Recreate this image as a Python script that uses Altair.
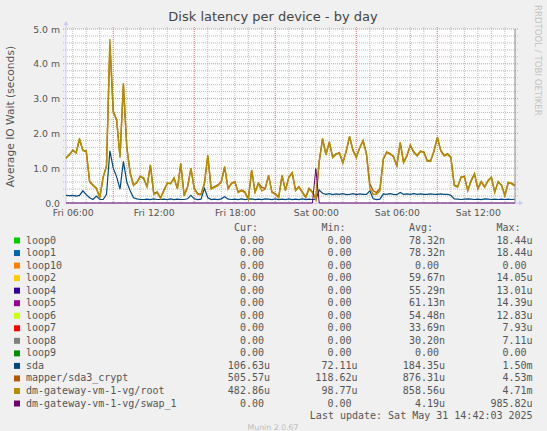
import altair as alt
import pandas as pd

# ---- samples: one every 15 minutes from Fri 05:30 to Sat 14:45 (values in ms) ----
START = "2025-05-30 05:30"
STEP = "15min"

sda_ms = [
    0.22, 0.21, 0.22, 0.20, 0.22, 0.35, 0.24, 0.15, 0.10, 0.20,
    0.10, 0.10, 0.25, 1.50, 1.00, 0.75, 0.40, 1.20, 0.60, 0.35,
    0.15, 0.12, 0.10, 0.10, 0.11, 0.10, 0.12, 0.10, 0.10, 0.11,
    0.10, 0.12, 0.10, 0.11, 0.10, 0.10, 0.12, 0.22, 0.12, 0.10,
    0.11, 0.42, 0.15, 0.10, 0.11, 0.10, 0.12, 0.18, 0.11, 0.10,
    0.11, 0.10, 0.12, 0.10, 0.11, 0.12, 0.10, 0.11, 0.10, 0.12,
    0.11, 0.10, 0.12, 0.10, 0.11, 0.10, 0.12, 0.10, 0.11, 0.10,
    0.12, 0.10, 0.11, 0.10, 0.10, 0.37, 0.28, 0.25, 0.27, 0.24,
    0.26, 0.25, 0.27, 0.24, 0.25, 0.27, 0.24, 0.26, 0.25, 0.25,
    0.35, 0.12, 0.10, 0.11, 0.26, 0.25, 0.27, 0.25, 0.24, 0.30,
    0.25, 0.26, 0.25, 0.27, 0.25, 0.26, 0.25, 0.25, 0.26, 0.25,
    0.25, 0.26, 0.25, 0.25, 0.22, 0.12, 0.11, 0.10, 0.11, 0.12,
    0.11, 0.10, 0.11, 0.10, 0.12, 0.11, 0.10, 0.11, 0.10, 0.11,
    0.10, 0.11, 0.10, 0.107,
]

crypt_ms = [
    1.30, 1.38, 1.52, 1.44, 1.82, 1.52, 1.48, 0.62, 0.52, 0.43,
    0.17, 0.73, 1.08, 4.53, 2.65, 2.38, 1.33, 3.40, 1.62, 0.88,
    0.52, 0.58, 0.77, 0.70, 0.47, 1.08, 0.27, 0.32, 0.15, 0.37,
    0.56, 0.57, 0.70, 0.42, 1.12, 0.22, 0.47, 0.98, 0.42, 0.27,
    0.25, 0.57, 1.35, 0.42, 0.47, 0.52, 0.62, 1.02, 0.42, 0.57,
    0.62, 0.32, 0.37, 0.32, 0.12, 0.93, 0.32, 0.57, 0.45, 0.42,
    0.78, 0.32, 0.27, 0.17, 0.78, 0.37, 0.73, 0.86, 0.37, 0.47,
    0.32, 0.17, 0.42, 0.32, 0.12, 1.18, 1.84, 1.40, 1.74, 1.32,
    1.42, 1.43, 1.16, 1.48, 1.90, 1.52, 1.32, 1.58, 1.78, 1.42,
    0.55, 0.35, 0.30, 0.42, 1.26, 1.47, 1.42, 1.33, 1.08, 1.73,
    1.17, 1.37, 1.65, 1.47, 1.37, 1.48, 1.47, 1.22, 1.22, 1.48,
    1.88, 1.52, 1.37, 1.42, 1.32, 0.52, 0.47, 0.73, 0.77, 0.37,
    0.63, 0.83, 0.42, 0.62, 0.47, 0.63, 0.73, 0.32, 0.60, 0.52,
    0.22, 0.58, 0.57, 0.51,
]

root_ms = [
    1.28, 1.40, 1.50, 1.45, 1.86, 1.50, 1.50, 0.60, 0.50, 0.41,
    0.15, 0.75, 1.05, 4.71, 2.60, 2.40, 1.30, 3.45, 1.60, 0.85,
    0.50, 0.60, 0.75, 0.73, 0.45, 1.10, 0.25, 0.30, 0.13, 0.35,
    0.58, 0.55, 0.73, 0.40, 1.15, 0.20, 0.45, 1.00, 0.40, 0.25,
    0.23, 0.55, 1.38, 0.40, 0.45, 0.50, 0.60, 1.05, 0.40, 0.55,
    0.60, 0.30, 0.35, 0.30, 0.10, 0.95, 0.30, 0.55, 0.35, 0.40,
    0.80, 0.30, 0.25, 0.15, 0.80, 0.35, 0.75, 0.88, 0.35, 0.45,
    0.30, 0.15, 0.40, 0.30, 0.10, 1.20, 1.86, 1.38, 1.76, 1.30,
    1.40, 1.45, 1.14, 1.50, 1.92, 1.50, 1.30, 1.60, 1.80, 1.40,
    0.42, 0.25, 0.25, 0.35, 1.28, 1.45, 1.40, 1.35, 1.05, 1.75,
    1.15, 1.35, 1.67, 1.45, 1.35, 1.50, 1.45, 1.20, 1.20, 1.50,
    1.90, 1.50, 1.35, 1.40, 1.30, 0.50, 0.45, 0.75, 0.75, 0.35,
    0.65, 0.85, 0.40, 0.60, 0.45, 0.65, 0.75, 0.30, 0.62, 0.50,
    0.20, 0.60, 0.55, 0.48,
]

swap_ms = [
    0, 0, 0, 0, 0, 0, 0, 0, 0, 0, 0, 0, 0, 0, 0, 0, 0, 0, 0, 0,
    0, 0, 0, 0, 0, 0, 0, 0, 0, 0, 0, 0, 0, 0, 0, 0, 0, 0, 0, 0,
    0, 0, 0, 0, 0, 0, 0, 0, 0, 0, 0, 0, 0, 0, 0, 0, 0, 0, 0, 0,
    0, 0, 0, 0, 0, 0, 0, 0, 0, 0, 0, 0, 0, 0, 0.99, 0, 0, 0, 0, 0,
    0, 0, 0, 0, 0, 0, 0, 0, 0, 0, 0, 0, 0, 0, 0, 0, 0, 0, 0, 0,
    0, 0, 0, 0, 0, 0, 0, 0, 0, 0, 0, 0, 0, 0, 0, 0, 0, 0, 0, 0,
    0, 0, 0, 0, 0, 0, 0, 0, 0, 0, 0, 0, 0, 0,
]

# ---- legend table ----
legend_names = [
    "loop0", "loop1", "loop10", "loop2", "loop4", "loop5", "loop6", "loop7",
    "loop8", "loop9", "sda", "mapper/sda3_crypt", "dm-gateway-vm-1-vg/root",
    "dm-gateway-vm-1-vg/swap_1",
]
legend_colors = [
    "#00CC00", "#0066B3", "#FF8000", "#FFCC00", "#330099", "#990099", "#CCFF00",
    "#FF0000", "#808080", "#008F00", "#00487D", "#B35A00", "#B38F00", "#6B006B",
]
cur_vals = ["0.00", "0.00", "0.00", "0.00", "0.00", "0.00", "0.00", "0.00",
            "0.00", "0.00", "106.63u", "505.57u", "482.86u", "0.00"]
min_vals = ["0.00", "0.00", "0.00", "0.00", "0.00", "0.00", "0.00", "0.00",
            "0.00", "0.00", "72.11u", "118.62u", "98.77u", "0.00"]
avg_vals = ["78.32n", "78.32n", "0.00", "59.67n", "55.29n", "61.13n", "54.48n",
            "33.69n", "30.20n", "0.00", "184.35u", "876.31u", "858.56u", "4.19u"]
max_vals = ["18.44u", "18.44u", "0.00", "14.05u", "13.01u", "14.39u", "12.83u",
            "7.93u", "7.11u", "0.00", "1.50m", "4.53m", "4.71m", "985.82u"]
header_labels = ["Cur:", "Min:", "Avg:", "Max:"]
header_keys = ["cur", "mn", "avg", "mx"]

# ---- axis ticks / grid ----
x_label_times = [(30, 6), (30, 12), (30, 18), (31, 0), (31, 6), (31, 12)]
y_label_values = [0, 1, 2, 3, 4, 5]
major_x_times = ["2025-05-30T09:00:00", "2025-05-30T15:00:00", "2025-05-30T21:00:00",
                 "2025-05-31T03:00:00", "2025-05-31T09:00:00"]
minor_y_values = [0.2, 0.4, 0.6, 0.8, 1.2, 1.4, 1.6, 1.8, 2.2, 2.4, 2.6, 2.8,
                  3.2, 3.4, 3.6, 3.8, 4.2, 4.4, 4.6, 4.8]
major_y_values = [1, 2, 3, 4, 5]

W, H = 449, 174
TEXT = "#555555"
AXISC = "#C8C8F4"
SANS = "DejaVu Sans"
MONO = "DejaVu Sans Mono"

times = pd.date_range(START, periods=len(root_ms), freq=STEP).strftime("%Y-%m-%dT%H:%M:%S")

X = alt.X(
    "t:T",
    scale=alt.Scale(
        domain=[alt.DateTime(year=2025, month=5, date=30, hours=5, minutes=30),
                alt.DateTime(year=2025, month=5, date=31, hours=14, minutes=45)],
        nice=False,
    ),
    axis=alt.Axis(
        values=[alt.DateTime(year=2025, month=5, date=d, hours=h) for d, h in x_label_times],
        format="%a %H:%M", labelFont=SANS, labelFontSize=9.3, labelColor=TEXT,
        ticks=False, domain=False, grid=False, labelPadding=5, title=None,
        labelFlush=False, labelOverlap=False,
    ),
)
Y = alt.Y(
    "v:Q",
    scale=alt.Scale(domain=[0, 5], nice=False, zero=True),
    axis=alt.Axis(
        values=y_label_values,
        labelExpr="datum.value == 0 ? '0.0' : format(datum.value, '.1f') + ' m'",
        labelFont=SANS, labelFontSize=9.3, labelColor=TEXT,
        ticks=False, domain=False, grid=False, labelPadding=6.5, title=None,
    ),
)

minor_x_df = pd.DataFrame({"t": pd.date_range("2025-05-30 06:00", "2025-05-31 14:00",
                                               freq="1h").strftime("%Y-%m-%dT%H:%M:%S")})
major_x_df = pd.DataFrame({"t": major_x_times})
minor_y_df = pd.DataFrame({"v": minor_y_values})
major_y_df = pd.DataFrame({"v": major_y_values})

grid_minor = dict(color="#BDBDBD", strokeWidth=1, strokeDash=[1, 1])
grid_major = dict(color="#E08A8A", strokeWidth=1, strokeDash=[1, 1])

minor_v = alt.Chart(minor_x_df).mark_rule(**grid_minor).encode(
    x=X, y=alt.value(-2), y2=alt.value(H + 2))
major_v = alt.Chart(major_x_df).mark_rule(**grid_major).encode(
    x=X, y=alt.value(-2), y2=alt.value(H + 2))
minor_h = alt.Chart(minor_y_df).mark_rule(**grid_minor).encode(
    y=Y, x=alt.value(-3), x2=alt.value(W + 4))
major_h = alt.Chart(major_y_df).mark_rule(**grid_major).encode(
    y=Y, x=alt.value(-3), x2=alt.value(W + 4))

# axis lines with arrow heads
y_axis_line = alt.Chart().mark_rule(color=AXISC, strokeWidth=1).encode(
    x=alt.value(0), y=alt.value(-4), y2=alt.value(H))
x_axis_line = alt.Chart().mark_rule(color=AXISC, strokeWidth=1).encode(
    x=alt.value(0), x2=alt.value(W + 5), y=alt.value(H))
y_arrow = alt.Chart().mark_point(shape="triangle-up", filled=True, color=AXISC,
                                 size=22, opacity=1).encode(x=alt.value(0), y=alt.value(-6))
x_arrow = alt.Chart().mark_point(shape="triangle-right", filled=True, color=AXISC,
                                 size=22, opacity=1).encode(x=alt.value(W + 6), y=alt.value(H))
right_edge = alt.Chart().mark_rule(color="#8A8A8A", strokeWidth=1).encode(
    x=alt.value(W), y=alt.value(0), y2=alt.value(H))


def series_layer(values, color, width):
    df = pd.DataFrame({"t": times, "v": values})
    return alt.Chart(df).mark_line(color=color, strokeWidth=width).encode(x=X, y=Y)


lines = [
    series_layer(sda_ms, legend_colors[10], 1.2),
    series_layer(crypt_ms, legend_colors[11], 1.4),
    series_layer(root_ms, legend_colors[12], 1.4),
    series_layer(swap_ms, legend_colors[13], 1.0),
]

plot = alt.layer(minor_v, minor_h, major_v, major_h, y_axis_line, x_axis_line,
                 y_arrow, x_arrow, *lines, right_edge)

# ---- legend ----
legend_df = pd.DataFrame({
    "row": list(range(len(legend_names))), "name": legend_names, "color": legend_colors,
    "cur": cur_vals, "mn": min_vals, "avg": avg_vals, "mx": max_vals,
})
ROW_Y = "211.5 + datum.row * 12.54"
COL_END = ("(datum.key == 'cur' ? 204 : datum.key == 'mn' ? 291.5 : "
           "datum.key == 'avg' ? 379 : 466.6)")
PX = alt.X("px:Q", scale=None, axis=None)
PY = alt.Y("py:Q", scale=None, axis=None)

swatches = alt.Chart(legend_df).mark_square(size=36, opacity=1).transform_calculate(
    py=ROW_Y).encode(x=alt.value(-49), y=PY, color=alt.Color("color:N", scale=None))
names = alt.Chart(legend_df).mark_text(
    align="left", baseline="middle", font=MONO, fontSize=10, color=TEXT
).transform_calculate(py=ROW_Y).encode(x=alt.value(-40), y=PY, text="name:N")
values = alt.Chart(legend_df).transform_fold(
    ["cur", "mn", "avg", "mx"], as_=["key", "value"]
).transform_calculate(
    py=ROW_Y,
    px=COL_END + " - (isNaN(toNumber(substring(datum.value, length(datum.value) - 1))) ? 0 : 6)",
).mark_text(align="right", baseline="middle", font=MONO, fontSize=10, color=TEXT).encode(
    x=PX, y=PY, text="value:N")
headers = alt.Chart(pd.DataFrame({"key": header_keys, "label": header_labels})).transform_calculate(
    px=COL_END + " - 12", py="211.5 - 12.54"
).mark_text(align="right", baseline="middle", font=MONO, fontSize=10, color=TEXT).encode(
    x=PX, y=PY, text="label:N")

last_update = alt.Chart().mark_text(
    text="Last update: Sat May 31 14:42:03 2025", align="right", baseline="middle",
    font=MONO, fontSize=10, color=TEXT).encode(x=alt.value(466.6), y=alt.value(387))
footer = alt.Chart().mark_text(
    text="Munin 2.0.67", align="center", baseline="middle", font=SANS, fontSize=7.8,
    color="#BDBDBD").encode(x=alt.value(207), y=alt.value(398.5))
title = alt.Chart().mark_text(
    text="Disk latency per device - by day", align="center", baseline="middle",
    font=SANS, fontSize=13, color="#444444").encode(x=alt.value(207), y=alt.value(-12))
y_title = alt.Chart().mark_text(
    text="Average IO Wait (seconds)", align="center", baseline="middle", angle=270,
    font=SANS, fontSize=10.7, color=TEXT).encode(x=alt.value(-55), y=alt.value(87.5))
credit = alt.Chart().mark_text(
    text="RRDTOOL / TOBI OETIKER", align="left", baseline="middle", angle=90,
    font=SANS, fontSize=8.6, color="#C4C4C4").encode(x=alt.value(471.5), y=alt.value(-24))

chart = alt.layer(
    plot, swatches, names, values, headers, last_update, footer, title, y_title, credit
).resolve_scale(x="independent", y="independent").properties(
    width=W, height=H,
    autosize=alt.AutoSizeParams(type="none"),
    padding={"left": 66, "top": 29, "right": 32, "bottom": 228},
).configure(background="#F0F0F0").configure_view(fill="#FFFFFF", stroke=None)

chart.save("out.html", embed_options={"renderer": "svg", "actions": False})
